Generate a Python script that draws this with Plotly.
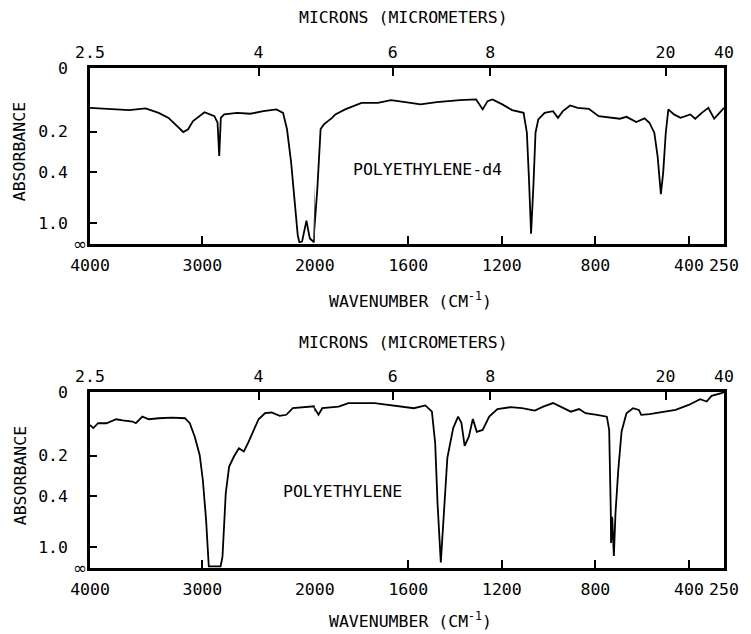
import plotly.graph_objects as go

# ---------------- data (wavenumber in cm-1, transmittance in %) ----------------
PE_D4_WN = [4000, 3797, 3651, 3505, 3389, 3301, 3229, 3170, 3127, 3083, 2981, 2893, 2865, 2850,
            2836, 2806, 2690, 2574, 2457, 2341, 2282, 2247, 2210, 2181, 2151, 2137, 2113, 2074,
            2044, 2006, 1989, 1975, 1961, 1926, 1912, 1870, 1835, 1800, 1730, 1674, 1590, 1548,
            1478, 1380, 1310, 1282, 1261, 1240, 1198, 1156, 1107, 1093, 1084, 1075, 1065, 1056,
            1044, 1017, 981, 960, 939, 908, 876, 828, 786, 737, 695, 667, 625, 590, 569, 548,
            534, 520, 510, 499, 488, 464, 436, 394, 373, 345, 317, 292, 268, 250]
PE_D4_T = [76.9, 76.0, 75.6, 76.6, 74.0, 71.1, 66.4, 62.9, 64.5, 69.2, 74.4, 72.1, 68.3, 49.0,
           71.1, 73.1, 74.0, 73.5, 75.0, 76.0, 74.0, 64.5, 45.2, 24.1, 2.9, -1.0, -0.6, 11.5,
           1.2, -1.0, 29.8, 64.6, 67.3, 71.1, 73.1, 76.0, 77.9, 79.8, 79.8, 81.4, 79.8, 78.9,
           80.2, 81.4, 81.8, 76.0, 80.8, 81.8, 78.9, 75.6, 74.0, 62.5, 35.8, 3.9, 31.7, 62.5,
           70.2, 74.0, 75.0, 71.1, 75.0, 78.3, 76.9, 76.3, 72.1, 71.5, 70.6, 71.7, 68.7, 70.8,
           68.3, 62.5, 49.0, 26.9, 39.4, 62.5, 76.0, 73.1, 71.1, 73.1, 70.6, 74.0, 76.9, 70.6,
           74.0, 76.9]

PE_WN = [4000, 3971, 3928, 3854, 3767, 3709, 3622, 3592, 3534, 3476, 3389, 3272, 3155, 3112,
         3068, 3024, 2996, 2967, 2943, 2891, 2838, 2821, 2792, 2762, 2719, 2675, 2631, 2588,
         2544, 2500, 2443, 2384, 2312, 2253, 2195, 2079, 2006, 1984, 1968, 1898, 1856, 1744,
         1660, 1576, 1527, 1499, 1485, 1475, 1461, 1448, 1433, 1408, 1387, 1373, 1359, 1341,
         1324, 1307, 1282, 1254, 1219, 1164, 1114, 1059, 1023, 981, 947, 905, 870, 842, 793,
         751, 741, 737, 734, 733, 728, 721, 714, 702, 688, 667, 639, 614, 604, 569, 513, 457,
         401, 352, 324, 303, 261, 250]
PE_T = [80.9, 79.1, 81.9, 81.9, 84.2, 83.5, 82.9, 81.9, 85.7, 84.2, 84.8, 85.1, 84.8, 81.9,
        74.1, 63.5, 49.0, 25.9, -1.1, -1.3, -1.1, 4.6, 41.3, 56.8, 62.6, 67.4, 65.5, 71.2,
        78.0, 84.2, 87.7, 88.1, 86.2, 86.8, 90.6, 91.5, 91.7, 86.8, 90.6, 91.5, 93.6, 93.6,
        91.9, 90.6, 92.2, 88.6, 70.3, 35.6, 1.2, 29.9, 61.8, 79.1, 85.7, 82.1, 68.8, 74.1,
        84.4, 76.9, 78.0, 85.7, 90.1, 91.2, 90.6, 89.2, 91.5, 93.6, 91.2, 88.6, 90.1, 87.7,
        86.8, 85.7, 78.0, 54.9, 29.9, 12.5, 27.7, 5.0, 29.9, 54.9, 77.1, 87.7, 90.6, 89.6,
        86.8, 87.2, 88.6, 89.6, 92.5, 95.8, 94.5, 97.8, 99.3, 100.0]

WN_TICKS_LEFT = [4000, 3000]
WN_TICKS_RIGHT = [2000, 1600, 1200, 800, 400, 250]
MICRON_TICKS = [2.5, 4, 6, 8, 20, 40]
ABS_TICKS = [0, 0.2, 0.4, 1.0]
ABS_LABELS = ["0", "0.2", "0.4", "1.0"]
SAMPLES = ["POLYETHYLENE-d4", "POLYETHYLENE"]

# ---------------- style ----------------
FONT = "DejaVu Sans Mono"
FS = 16.5
SPLIT = 2000          # scale change (2:1) at 2000 cm-1
XSPLIT = 0.3545       # paper fraction where the scale changes
T_RANGE = [-2, 100]
LW = 2.5

def T_of_A(a):
    return 100 * 10 ** (-a)

def fmt(m):
    return ("%g" % m)

panels = [
    dict(wn=PE_D4_WN, t=PE_D4_T, ids=("", "2", "5", "6"), yids=("", "2"), dom=[0.648, 1.0],
         label=SAMPLES[0], lab_x=1517, lab_y=40.9, title_dy=0.112),
    dict(wn=PE_WN, t=PE_T, ids=("3", "4", "7", "8"), yids=("3", "4"), dom=[0.0, 0.352],
         label=SAMPLES[1], lab_x=1882, lab_y=42.2, title_dy=0.104),
]

fig = go.Figure()
layout = dict(
    width=751, height=634,
    margin=dict(l=90, r=15, t=68, b=66),
    paper_bgcolor="white", plot_bgcolor="white",
    font=dict(family=FONT, size=FS, color="black"),
    showlegend=False,
)
annotations = []

for p in panels:
    xl, xr, xml, xmr = p["ids"]
    yl, yr = p["yids"]
    # spectrum drawn in both scale segments (clipped by each axis range)
    for xa, ya in ((xl, yl), (xr, yr)):
        fig.add_trace(go.Scatter(x=p["wn"], y=p["t"], xaxis="x" + xa, yaxis="y" + ya,
                                 mode="lines", line=dict(color="black", width=1.8),
                                 hoverinfo="skip", showlegend=False))
    for xa, ya in ((xml, yl), (xmr, yr)):
        fig.add_trace(go.Scatter(x=[], y=[], xaxis="x" + xa, yaxis="y" + ya,
                                 mode="lines", hoverinfo="skip", showlegend=False))

    base_x = dict(showgrid=False, zeroline=False, showline=True, linecolor="black",
                  linewidth=LW, mirror=True, ticks="inside", ticklen=8, tickwidth=2,
                  tickcolor="black", tickfont=dict(family=FONT, size=FS, color="black"),
                  ticklabelstandoff=4)
    layout["xaxis" + xl] = dict(base_x, domain=[0, XSPLIT], anchor="y" + yl,
                                range=[4000, SPLIT], tickmode="array",
                                tickvals=WN_TICKS_LEFT, ticktext=[str(v) for v in WN_TICKS_LEFT])
    layout["xaxis" + xr] = dict(base_x, domain=[XSPLIT, 1], anchor="y" + yr,
                                range=[SPLIT, 250], tickmode="array",
                                tickvals=WN_TICKS_RIGHT, ticktext=[str(v) for v in WN_TICKS_RIGHT])

    mic_l = [m for m in MICRON_TICKS if 1e4 / m > SPLIT]
    mic_r = [m for m in MICRON_TICKS if 1e4 / m < SPLIT]
    base_m = dict(showgrid=False, zeroline=False, showline=False, side="top",
                  ticks="inside", ticklen=8, tickwidth=2, tickcolor="black",
                  tickfont=dict(family=FONT, size=FS, color="black"),
                  ticklabelstandoff=6, tickmode="array")
    layout["xaxis" + xml] = dict(base_m, overlaying="x" + xl, anchor="y" + yl,
                                 range=[4000, SPLIT], tickvals=[1e4 / m for m in mic_l],
                                 ticktext=[fmt(m) for m in mic_l])
    layout["xaxis" + xmr] = dict(base_m, overlaying="x" + xr, anchor="y" + yr,
                                 range=[SPLIT, 250], tickvals=[1e4 / m for m in mic_r],
                                 ticktext=[fmt(m) for m in mic_r])

    layout["yaxis" + yl] = dict(domain=p["dom"], anchor="x" + xl, range=T_RANGE,
                                showgrid=False, zeroline=False, showline=True,
                                linecolor="black", linewidth=LW, ticks="inside",
                                ticklen=7, tickwidth=2, tickcolor="black",
                                tickmode="array", tickvals=[T_of_A(a) for a in ABS_TICKS],
                                ticktext=ABS_LABELS, ticklabelstandoff=16,
                                tickfont=dict(family=FONT, size=FS, color="black"))
    layout["yaxis" + yr] = dict(domain=p["dom"], anchor="x" + xr, range=T_RANGE, side="right",
                                showgrid=False, zeroline=False, showline=True,
                                linecolor="black", linewidth=LW, ticks="",
                                showticklabels=False)

    d0, d1 = p["dom"]
    annotations += [
        dict(text="MICRONS (MICROMETERS)", xref="paper", yref="paper", x=0.494,
             y=d1 + 0.1, xanchor="center", yanchor="middle", showarrow=False,
             font=dict(family=FONT, size=FS)),
        dict(text="WAVENUMBER (CM<sup>-1</sup>)", xref="paper", yref="paper", x=0.505,
             y=d0 - p["title_dy"], xanchor="center", yanchor="middle", showarrow=False,
             font=dict(family=FONT, size=FS)),
        dict(text="ABSORBANCE", xref="paper", yref="paper", x=-0.110,
             y=(d0 + d1) / 2 + 0.008, xanchor="center", yanchor="middle", textangle=-90,
             showarrow=False, font=dict(family=FONT, size=FS)),
        dict(text="\u221e", xref="x" + xl, yref="y" + yl, x=4000, y=T_RANGE[0],
             xanchor="right", yanchor="middle", xshift=-1, showarrow=False,
             font=dict(family="DejaVu Sans", size=17)),
        dict(text=p["label"], xref="x" + xr, yref="y" + yr, x=p["lab_x"], y=p["lab_y"],
             xanchor="center", yanchor="middle", showarrow=False,
             font=dict(family=FONT, size=FS)),
    ]

layout["annotations"] = annotations
fig.update_layout(**layout)
fig.write_html("out.html", config={"displayModeBar": False},
               post_script="document.body.style.margin='0px';document.body.style.overflow='hidden';")
